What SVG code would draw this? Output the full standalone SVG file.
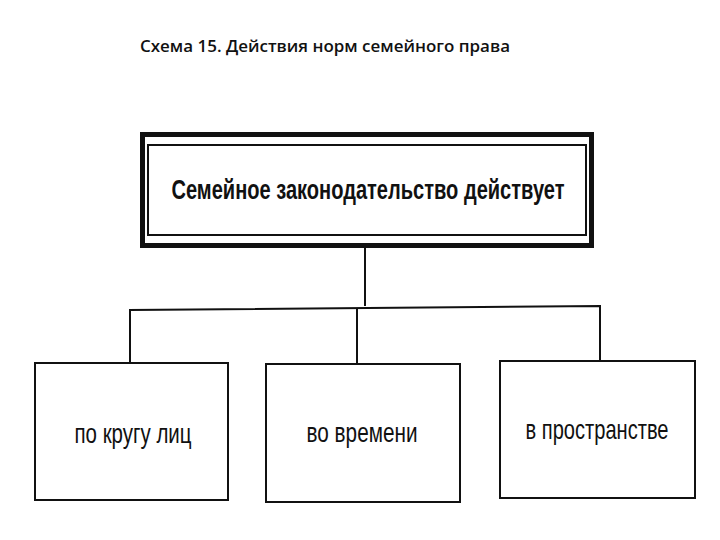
<svg xmlns="http://www.w3.org/2000/svg" width="720" height="540" viewBox="0 0 720 540">
<style>
.title{font-family:"Open Sans","Liberation Sans",sans-serif;font-size:16px;font-weight:600;fill:#111}
.lbl{font-family:"Liberation Sans","DejaVu Sans",sans-serif;fill:#111;text-anchor:middle}
.box{fill:#fff;stroke:#111;stroke-width:2}
.conn{fill:none;stroke:#111;stroke-width:2}
</style>
<rect width="720" height="540" fill="#fff"/>
<text class="title" x="140" y="52" textLength="370" lengthAdjust="spacingAndGlyphs">Схема 15. Действия норм семейного права</text>
<g id="connectors">
<path class="conn" d="M365,247 V306"/>
<path class="conn" d="M130,363 V310 L600,306 V361"/>
<path class="conn" d="M357,308 V364"/>
</g>
<g id="top">
<rect x="142.5" y="134.5" width="449" height="111" fill="#fff" stroke="#111" stroke-width="5"/>
<rect class="box" x="148" y="145" width="438" height="90"/>
<text class="lbl" x="368" y="199" font-size="28" font-weight="bold" textLength="393" lengthAdjust="spacingAndGlyphs">Семейное законодательство действует</text>
</g>
<g id="n1">
<rect class="box" x="35" y="363" width="193" height="137"/>
<text class="lbl" x="133" y="443" font-size="28" textLength="117" lengthAdjust="spacingAndGlyphs">по кругу лиц</text>
</g>
<g id="n2">
<rect class="box" x="266" y="364" width="194" height="138"/>
<text class="lbl" x="362" y="442" font-size="28" textLength="111" lengthAdjust="spacingAndGlyphs">во времени</text>
</g>
<g id="n3">
<rect class="box" x="500" y="361" width="195" height="137"/>
<text class="lbl" x="597" y="439" font-size="28" textLength="143" lengthAdjust="spacingAndGlyphs">в пространстве</text>
</g>
</svg>
